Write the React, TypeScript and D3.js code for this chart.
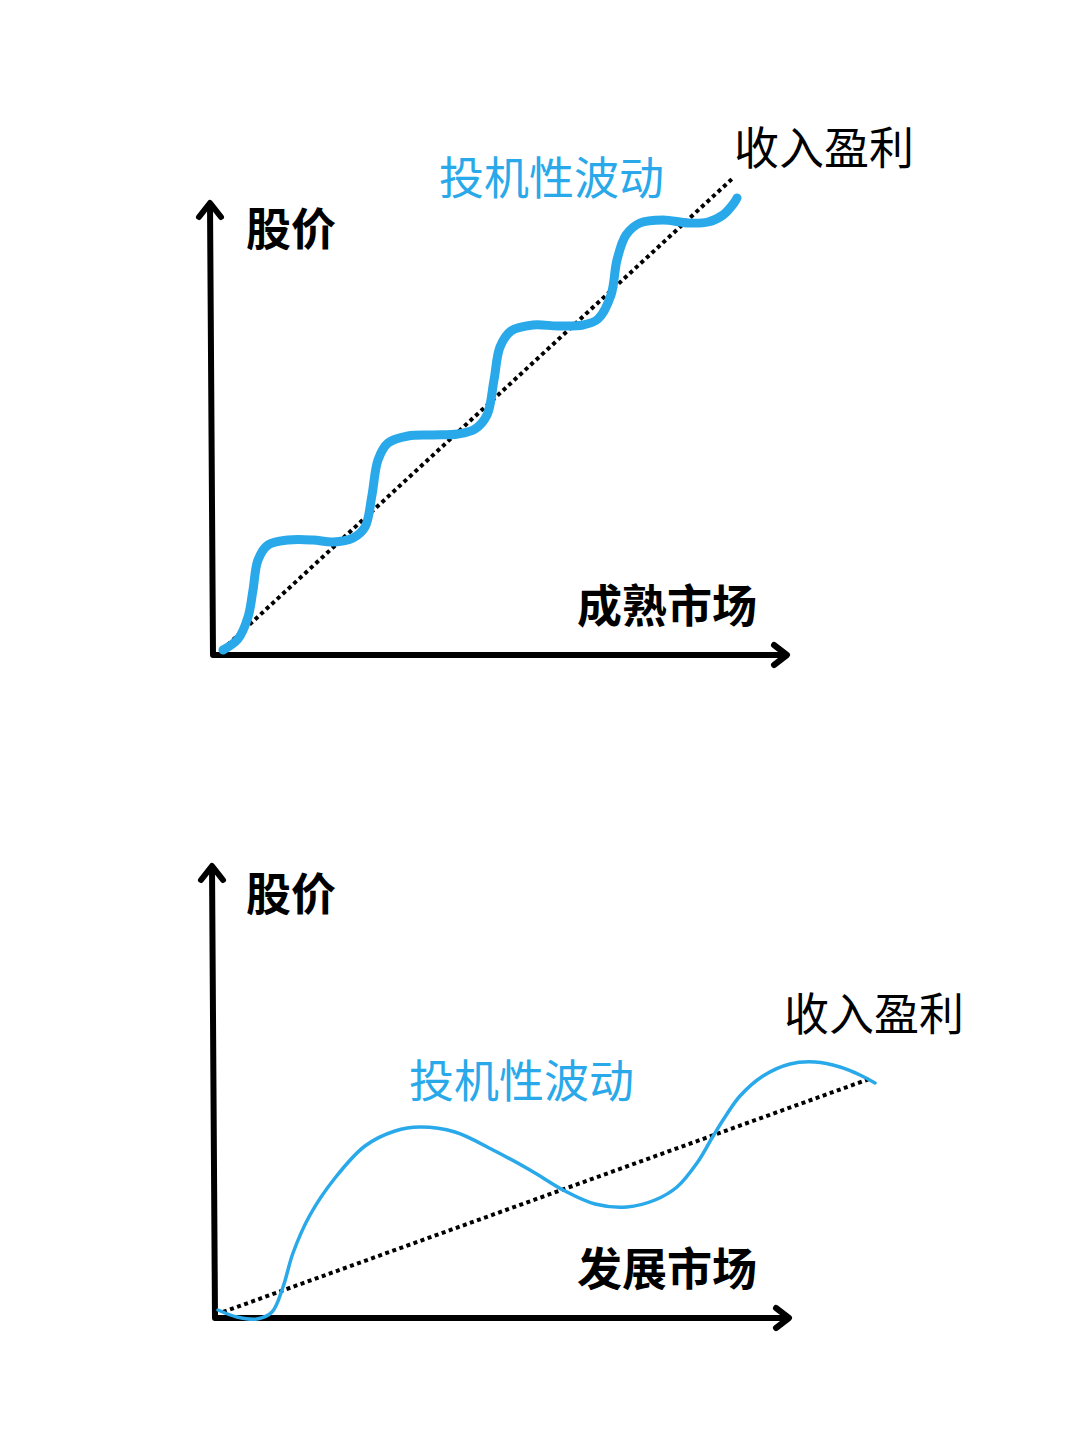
import * as d3 from "d3";

// offsets from each panel origin (x right, y up)
const matureWaveX = [10, 25, 35, 40, 45, 55, 75, 100, 120, 140, 152, 159, 165, 175, 195, 220, 245, 262, 274, 281, 287, 298, 320, 345, 370, 385, 398, 404, 413, 427, 450, 475, 495, 510, 521, 524];
const matureWaveY = [5, 16, 38, 65, 95, 110, 115, 115, 113, 117, 128, 160, 195, 212, 219, 220, 221, 226, 240, 275, 308, 324, 330, 329, 330, 336, 360, 395, 420, 432, 435, 432, 433, 440, 452, 457];
const matureTrendX = [9, 520];
const matureTrendY = [5, 477];

const growthWaveX = [3, 22, 42, 57, 68, 78, 95, 120, 150, 180, 205, 240, 278, 315, 350, 380, 412, 440, 462, 482, 497, 510, 525, 548, 575, 600, 625, 645, 660];
const growthWaveY = [8, 1, -1, 6, 31, 65, 103, 140, 172, 187, 191, 186, 168, 148, 127, 114, 111, 118, 131, 155, 180, 201, 222, 242, 254, 256, 251, 243, 235];
const growthTrendX = [8, 657];
const growthTrendY = [6, 240];

const BLUE = "#29a9e9";
const FONT = "'Noto Sans CJK SC', 'Noto Sans', sans-serif";

type Pt = [number, number];
const zip = (xs: number[], ys: number[]): Pt[] => xs.map((x, i) => [x, ys[i]]);

interface PanelProps {
  ox: number;
  oy: number;
  wave: Pt[];
  trend: Pt[];
  waveWidth: number;
}

function Panel({ ox, oy, wave, trend, waveWidth }: PanelProps) {
  const x = d3.scaleLinear().domain([0, 575]).range([ox, ox + 575]);
  const y = d3.scaleLinear().domain([0, 450]).range([oy, oy - 450]);
  const line = d3
    .line<Pt>()
    .x((d) => x(d[0]))
    .y((d) => y(d[1]));
  const smooth = d3
    .line<Pt>()
    .x((d) => x(d[0]))
    .y((d) => y(d[1]))
    .curve(d3.curveCatmullRom.alpha(0.5));

  const top = y(450) - 2;
  const right = x(574);

  return (
    <g>
      <g stroke="#000" strokeWidth={6} fill="none" strokeLinecap="round" strokeLinejoin="round">
        <path d={`M${ox - 3},${top} L${ox},${oy} L${right},${oy}`} strokeLinecap="butt" />
        <path d={`M${ox - 14},${top + 14} L${ox - 3},${top} L${ox + 8},${top + 14}`} />
        <path d={`M${right - 13},${oy - 10} L${right},${oy} L${right - 13},${oy + 10}`} />
      </g>
      <path d={line(trend) ?? ""} stroke="#000" strokeWidth={4} strokeDasharray="4 3.5" fill="none" />
      <path d={smooth(wave) ?? ""} stroke={BLUE} strokeWidth={waveWidth} strokeLinecap="round" fill="none" />
    </g>
  );
}

export default function App() {
  const textStyle = { fontFamily: FONT };
  return (
    <svg
      width={1080}
      height={1443}
      style={{ position: "absolute", left: 0, top: 0, background: "#fff" }}
    >
      <rect width={1080} height={1443} fill="#fff" />
      <Panel
        ox={213}
        oy={655}
        wave={zip(matureWaveX, matureWaveY)}
        trend={zip(matureTrendX, matureTrendY)}
        waveWidth={9}
      />
      <Panel
        ox={215}
        oy={1318}
        wave={zip(growthWaveX, growthWaveY)}
        trend={zip(growthTrendX, growthTrendY)}
        waveWidth={3.5}
      />
      <g style={textStyle} fontSize={45} dominantBaseline="central">
        <text x={246} y={226} fontWeight="bold">股价</text>
        <text x={439} y={175} fill={BLUE}>投机性波动</text>
        <text x={734} y={145}>收入盈利</text>
        <text x={577} y={603} fontWeight="bold">成熟市场</text>

        <text x={246} y={891} fontWeight="bold">股价</text>
        <text x={784} y={1011}>收入盈利</text>
        <text x={409} y={1078} fill={BLUE}>投机性波动</text>
        <text x={577} y={1266} fontWeight="bold">发展市场</text>
      </g>
    </svg>
  );
}
